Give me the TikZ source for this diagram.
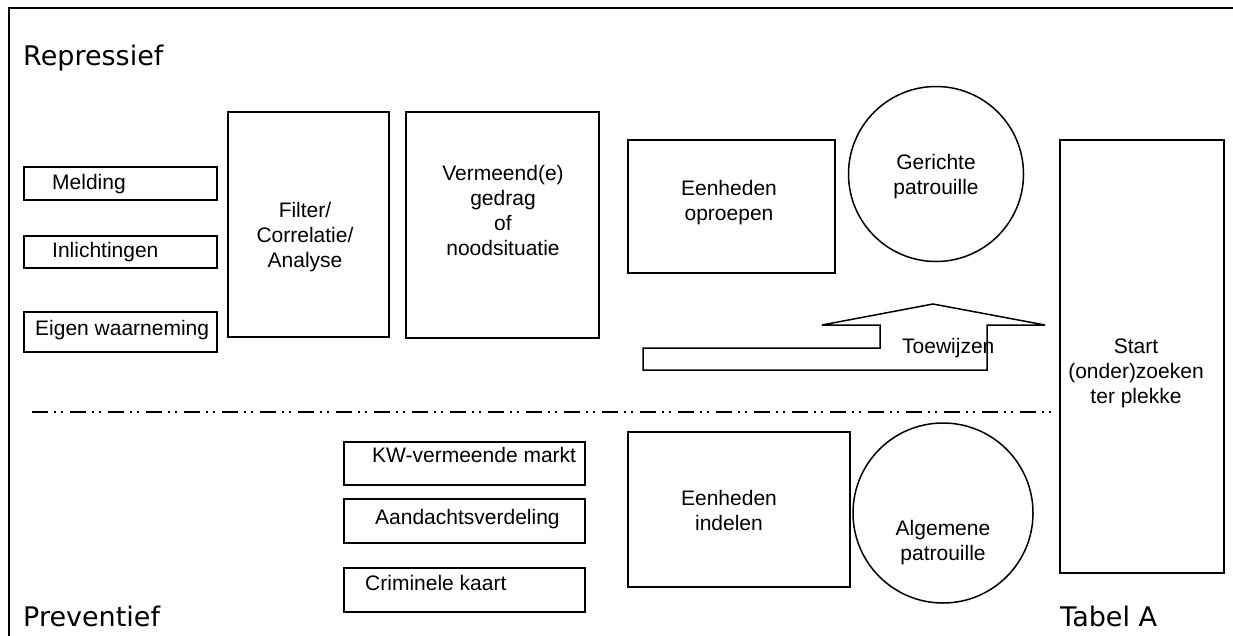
\documentclass[tikz,border=0pt]{standalone}
\usepackage{fontspec}
\setmainfont{Liberation Sans}
\newfontfamily\sidefont{DejaVu Sans}
\begin{document}
\begin{tikzpicture}[x=1pt,y=-1pt,
  box/.style={draw, line width=1.5pt, rectangle, inner sep=0pt},
  roundbox/.style={draw, line width=1.5pt, circle, inner sep=0pt},
  txt/.style={font=\fontsize{21}{25}\selectfont, inner sep=0pt, align=center},
  ltxt/.style={font=\fontsize{21}{25}\selectfont, inner sep=0pt, anchor=base west},
  side/.style={font=\sidefont\fontsize{27}{30}\selectfont, inner sep=0pt, anchor=base west},
  sep/.style={line width=1.8pt, dash pattern=on 16pt off 5.5pt on 2pt off 5pt on 2pt off 7.5pt}]
\useasboundingbox (0,0) rectangle (1233,635);
% frame
\coordinate (fbl) at (8.5,640);
\coordinate (ftl) at (8.5,7.5);
\coordinate (ftr) at (1240,7.5);
\draw[line width=2pt] (fbl) -- (ftl) -- (ftr);
% side labels
\node[side] (repr) at (23,65) {Repressief};
\node[side] (prev) at (23,626) {Preventief};
\node[side] (tabel) at (1060,626) {Tabel A};
% left input boxes
\node[box, minimum width=193pt, minimum height=33pt] (melding) at (120.5,183.5) {};
\node[ltxt] (tmelding) at (52,189) {Melding};
\node[box, minimum width=193pt, minimum height=32pt] (inl) at (120.5,252) {};
\node[ltxt] (tinl) at (52,257) {Inlichtingen};
\node[box, minimum width=193pt, minimum height=40pt] (eigen) at (120.5,332) {};
\node[ltxt] (teigen) at (35,335) {Eigen waarneming};
% filter
\node[box, minimum width=161pt, minimum height=225pt] (filter) at (308.5,224.5) {};
\node[txt] (tfilter) at (305,237) {Filter/\\Correlatie/\\Analyse};
% vermeend
\node[box, minimum width=193pt, minimum height=226pt] (verm) at (502.5,225) {};
\node[txt] (tverm) at (503,210) {Vermeend(e)\\gedrag\\of\\noodsituatie};
% eenheden oproepen
\node[box, minimum width=207pt, minimum height=133pt] (oproep) at (731.5,206.5) {};
\node[txt] (toproep) at (729,203) {Eenheden\\oproepen};
% gerichte patrouille
\node[roundbox, minimum size=175pt] (gericht) at (936,174) {};
\node[txt] (tgericht) at (936,177) {Gerichte\\patrouille};
% start
\node[box, minimum width=164pt, minimum height=433pt] (start) at (1142,356.5) {};
\node[txt] (tstart) at (1136,373.5) {Start\\(onder)zoeken\\ter plekke};
% arrow
\draw[line width=1.5pt, line join=miter] (643,370) -- (643,348) -- (880,348) -- (880,325) -- (822,325) -- (933,304) -- (1045,325) -- (987,325) -- (987,370) -- cycle;
\node[ltxt] (ttoew) at (902,353) {Toewijzen};
% separator
\coordinate (sl) at (32,412);
\coordinate (sr) at (1053,412);
\draw[sep] (sl) -- (sr);
% preventive boxes
\node[box, minimum width=241pt, minimum height=43pt] (kw) at (464.5,463.5) {};
\node[ltxt] (tkw) at (372,462) {KW-vermeende markt};
\node[box, minimum width=241pt, minimum height=44pt] (aand) at (464.5,521) {};
\node[ltxt] (taand) at (375,524) {Aandachtsverdeling};
\node[box, minimum width=241pt, minimum height=44pt] (crim) at (464.5,590) {};
\node[ltxt] (tcrim) at (365,590) {Criminele kaart};
% eenheden indelen
\node[box, minimum width=222pt, minimum height=155pt] (indel) at (739,509.5) {};
\node[txt] (tindel) at (729,510.5) {Eenheden\\indelen};
% algemene patrouille
\node[roundbox, minimum size=180pt] (algem) at (943,513) {};
\node[txt] (talgem) at (943,542.5) {Algemene\\patrouille};
\end{tikzpicture}
\end{document}
